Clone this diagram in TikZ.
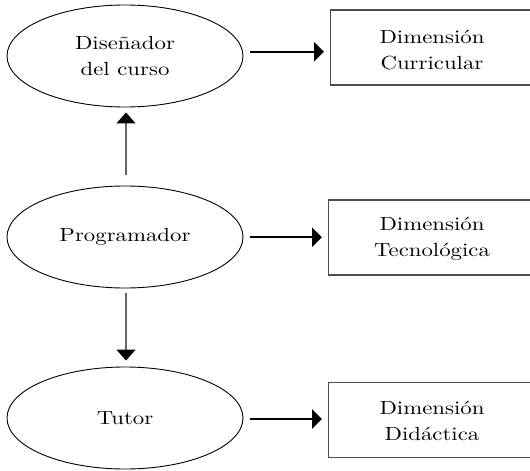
\documentclass[tikz,border=0pt]{standalone}
\usepackage{fontspec}
\setmainfont{lmroman10-regular.otf}[FakeStretch=1.2]
\usetikzlibrary{shapes.geometric,arrows.meta,calc}
\begin{document}
\begin{tikzpicture}[x=1pt,y=-1pt,
  txt/.style={font=\fontsize{19}{25.7}\selectfont, align=center},
  role/.style={txt, draw=black, line width=0.9pt, ellipse, minimum width=236pt, minimum height=102pt, inner sep=0pt},
  dim/.style={draw=black!70, line width=1.4pt, minimum width=202pt, minimum height=75pt, inner sep=0pt, anchor=west},
  harrow/.style={line width=2.2pt, -{Triangle[width=19pt,length=10pt]}},
  varrow/.style={draw=black!60, line width=1.5pt, -{Triangle[width=19pt,length=11pt,color=black]}}
]
\useasboundingbox (0,0) rectangle (530,471);
\node[role] (e1) at (125,56) {Diseñador\\del curso};
\node[role] (e2) at (125,237) {Programador};
\node[role] (e3) at (125,418) {Tutor};
\node[dim] (r1) at (330,47.5) {};
\node[dim] (r2) at (328,237.5) {};
\node[dim] (r3) at (328,420) {};
\node[txt] (t1) at (432,50) {Dimensión\\Curricular};
\node[txt] (t2) at (432,239) {Dimensión\\Tecnológica};
\node[txt] (t3) at (432,421) {Dimensión\\Didáctica};
\coordinate (m1) at ($(e1.east)!0.5!(r1.west)$);
\coordinate (m2) at ($(e2.east)!0.5!(r2.west)$);
\coordinate (m3) at ($(e3.east)!0.5!(r3.west)$);
\draw[harrow] ($(m1 -| e1.east)+(7,0)$) -- ($(m1 -| r1.west)+(-6,0)$);
\draw[harrow] ($(m2 -| e2.east)+(7,0)$) -- ($(m2 -| r2.west)+(-6,0)$);
\draw[harrow] ($(m3 -| e3.east)+(7,0)$) -- ($(m3 -| r3.west)+(-6,0)$);
\draw[varrow] ($(e2.north)+(1,-10.5)$) -- ($(e1.south)+(1,5)$);
\draw[varrow] ($(e2.south)+(1,4.5)$) -- ($(e3.north)+(1,-6)$);
\end{tikzpicture}
\end{document}
